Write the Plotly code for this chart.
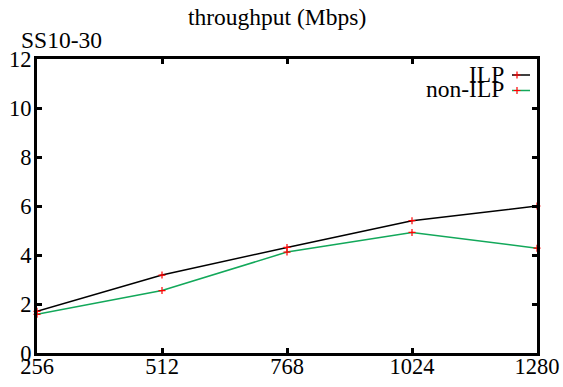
import plotly.graph_objects as go

packet_sizes = [256, 512, 768, 1024, 1280]
ilp = [1.70, 3.18, 4.31, 5.40, 6.00]
non_ilp = [1.58, 2.55, 4.12, 4.92, 4.28]
series_names = ["ILP", "non-ILP"]
series_colors = ["#000000", "#12a85a"]
y_ticks = [0, 2, 4, 6, 8, 10, 12]

FONT = "Liberation Serif"
FS_TICK = 22.5
FS_TEXT = 23.5
MARK = dict(symbol="cross-thin", size=5, color="red", line=dict(color="red", width=1.2))
PX_L, PX_R, PX_T, PX_B = 37, 537, 59, 353  # plot area in pixels


def px_x(p):
    return (p - PX_L) / (PX_R - PX_L)


def px_y(p):
    return (PX_B - p) / (PX_B - PX_T)


fig = go.Figure()

for name, vals, col in zip(series_names, [ilp, non_ilp], series_colors):
    fig.add_trace(go.Scatter(
        x=packet_sizes, y=vals, mode="lines+markers", name=name,
        line=dict(color=col, width=1.5), marker=MARK,
        showlegend=False, cliponaxis=False))

# custom gnuplot-style legend (text left of the sample)
legend_text_y = [72, 88]
legend_line_y = [75, 90.5]
annots = []
for name, col, ty, ly in zip(series_names, series_colors, legend_text_y, legend_line_y):
    fig.add_trace(go.Scatter(x=[px_x(512), px_x(530)], y=[px_y(ly), px_y(ly)], xaxis="x2", yaxis="y2",
                             mode="lines", line=dict(color=col, width=1.5), showlegend=False,
                             hoverinfo="skip"))
    fig.add_trace(go.Scatter(x=[px_x(517)], y=[px_y(ly)], xaxis="x2", yaxis="y2", mode="markers",
                             marker=MARK, showlegend=False, hoverinfo="skip"))
    annots.append(dict(x=px_x(506), y=px_y(ty + 1.5), xref="paper", yref="paper", text=name,
                       showarrow=False, xanchor="right", yanchor="middle",
                       font=dict(family=FONT, size=FS_TEXT, color="black")))

annots.append(dict(text="throughput (Mbps)", x=px_x(277), y=px_y(17),
                   xref="paper", yref="paper", showarrow=False, yanchor="middle",
                   font=dict(family=FONT, size=FS_TEXT, color="black")))
annots.append(dict(text="SS10-30", x=px_x(19), y=px_y(40),
                   xref="paper", yref="paper", showarrow=False, xanchor="left", yanchor="middle",
                   font=dict(family=FONT, size=FS_TEXT, color="black")))

axis_common = dict(showline=True, linecolor="black", linewidth=3, mirror="ticks",
                   ticks="inside", ticklen=5, tickwidth=3, tickcolor="black",
                   showgrid=False, zeroline=False, automargin=False,
                   tickfont=dict(family=FONT, size=FS_TICK, color="black"))

fig.update_layout(
    width=563, height=387,
    font=dict(family=FONT, size=FS_TICK),
    margin=dict(l=PX_L, r=563 - PX_R, t=PX_T, b=387 - PX_B, autoexpand=False),
    paper_bgcolor="white", plot_bgcolor="white",
    xaxis=dict(range=[256, 1280], tickvals=packet_sizes, ticklabelstandoff=-9, **axis_common),
    yaxis=dict(range=[0, 12], tickvals=y_ticks, ticklabelstandoff=-2, **axis_common),
    xaxis2=dict(range=[0, 1], overlaying="x", visible=False, domain=[0, 1]),
    yaxis2=dict(range=[0, 1], overlaying="y", visible=False),
    annotations=annots,
)

fig.write_html("out.html")
